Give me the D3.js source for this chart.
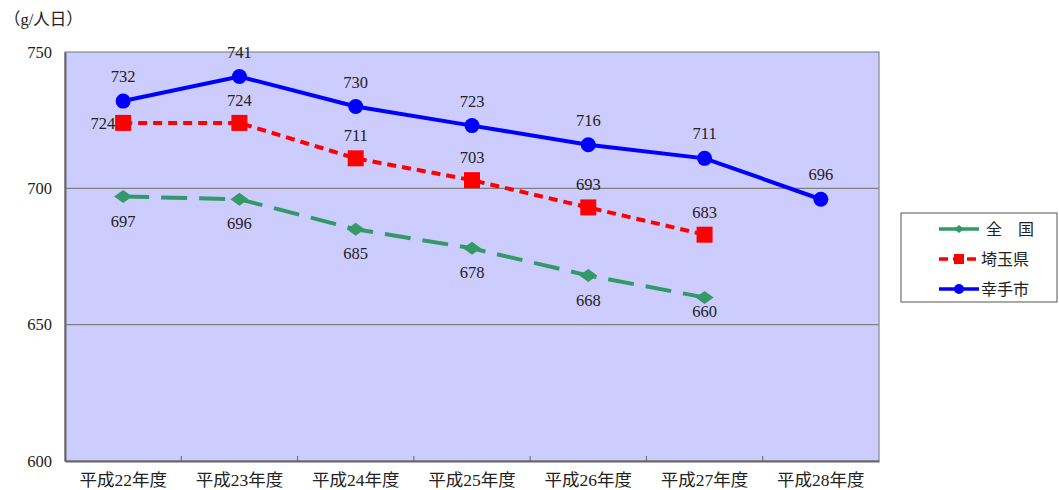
<!DOCTYPE html>
<html><head><meta charset="utf-8">
<script src="https://cdn.jsdelivr.net/npm/d3@7"></script>
<style>
body{margin:0;background:#fff;}
text{font-family:"Liberation Serif","DejaVu Serif","Noto Sans CJK JP",serif;fill:#222;}
</style></head>
<body><svg id="chart" width="1059" height="490"></svg>
<script>
const categories = ["平成22年度","平成23年度","平成24年度","平成25年度","平成26年度","平成27年度","平成28年度"];
const zenkoku = [697, 696, 685, 678, 668, 660];
const saitama = [724, 724, 711, 703, 693, 683];
const satte = [732, 741, 730, 723, 716, 711, 696];
const yTicks = [600, 650, 700, 750];
const seriesNames = ["全　国", "埼玉県", "幸手市"];

const svg = d3.select("#chart");
const m = {left: 65, right: 879, top: 52, bottom: 461};

const x = d3.scaleBand().domain(categories).range([m.left, m.right]);
const y = d3.scaleLinear().domain([600, 750]).range([m.bottom, m.top]);
const cx = i => x(categories[i]) + x.bandwidth() / 2;

// flat diamond marker, wider than tall
const diamond = (w, h) => `M${-w/2},0L0,${-h/2}L${w/2},0L0,${h/2}Z`;

// plot area
svg.append("rect").attr("x", m.left).attr("y", m.top)
  .attr("width", m.right - m.left).attr("height", m.bottom - m.top)
  .attr("fill", "#ccccff").attr("stroke", "#888").attr("stroke-width", 1.2);

// horizontal gridlines
svg.selectAll(".grid").data(yTicks.filter(t => t > 600 && t < 750)).join("line")
  .attr("x1", m.left).attr("x2", m.right)
  .attr("y1", d => y(d)).attr("y2", d => y(d))
  .attr("stroke", "#808080").attr("stroke-width", 1.2);

// axes
const yAxis = d3.axisLeft(y).tickValues(yTicks).tickSize(0).tickPadding(13);
svg.append("g").attr("transform", `translate(${m.left},0)`).call(yAxis)
  .call(g => g.select(".domain").attr("stroke", "#666").attr("stroke-width", 2))
  .call(g => g.selectAll("text").attr("font-size", 16.5).style("fill", "#222"));

const xAxis = d3.axisBottom(x).tickSize(0).tickPadding(13);
svg.append("g").attr("transform", `translate(0,${m.bottom})`).call(xAxis)
  .call(g => g.select(".domain").attr("stroke", "#666").attr("stroke-width", 2))
  .call(g => g.selectAll("text").attr("font-size", 17.5).style("fill", "#222"));

// inner tick marks at category boundaries
svg.selectAll(".xtick").data(categories.slice(1)).join("line")
  .attr("x1", d => x(d)).attr("x2", d => x(d))
  .attr("y1", m.bottom - 5).attr("y2", m.bottom)
  .attr("stroke", "#666").attr("stroke-width", 1);

// unit label
svg.append("text").attr("x", 4).attr("y", 25).attr("font-size", 16.5).text("（g/人日）");

const line = d3.line().x((d, i) => cx(i)).y(d => y(d));
const labelSize = 16.5;

// 全国
svg.append("path").datum(zenkoku).attr("d", line).attr("fill", "none")
  .attr("stroke", "#339966").attr("stroke-width", 4).attr("stroke-dasharray", "26,12");
svg.selectAll(".zk").data(zenkoku).join("path")
  .attr("transform", (d, i) => `translate(${cx(i)},${y(d)})`)
  .attr("d", diamond(18, 13)).attr("fill", "#339966");
svg.selectAll(".zkl").data(zenkoku).join("text")
  .attr("x", (d, i) => cx(i))
  .attr("y", (d, i) => y(d) + (i === zenkoku.length - 1 ? 20 : 30))
  .attr("text-anchor", "middle").attr("font-size", labelSize).text(d => d);

// 埼玉県
svg.append("path").datum(saitama).attr("d", line).attr("fill", "none")
  .attr("stroke", "#ff0000").attr("stroke-width", 4).attr("stroke-dasharray", "9,6");
svg.selectAll(".st").data(saitama).join("rect")
  .attr("x", (d, i) => cx(i) - 8).attr("y", d => y(d) - 8)
  .attr("width", 16).attr("height", 16).attr("fill", "#ff0000");
svg.selectAll(".stl").data(saitama).join("text")
  .attr("x", (d, i) => i === 0 ? cx(i) - 8 : cx(i))
  .attr("y", (d, i) => i === 0 ? y(d) + 6 : y(d) - 17)
  .attr("text-anchor", (d, i) => i === 0 ? "end" : "middle")
  .attr("font-size", labelSize).text(d => d);

// 幸手市
svg.append("path").datum(satte).attr("d", line).attr("fill", "none")
  .attr("stroke", "#0000ff").attr("stroke-width", 4);
svg.selectAll(".sa").data(satte).join("circle")
  .attr("cx", (d, i) => cx(i)).attr("cy", d => y(d)).attr("r", 7.5).attr("fill", "#0000ff");
svg.selectAll(".sal").data(satte).join("text")
  .attr("x", (d, i) => cx(i)).attr("y", d => y(d) - 19)
  .attr("text-anchor", "middle").attr("font-size", labelSize).text(d => d);

// legend
const lg = svg.append("g").attr("transform", "translate(901,213)");
lg.append("rect").attr("width", 156).attr("height", 89)
  .attr("fill", "#fff").attr("stroke", "#555").attr("stroke-width", 1);
const legendItems = [
  {name: seriesNames[0], color: "#339966", dash: null, mark: "diamond"},
  {name: seriesNames[1], color: "#ff0000", dash: "9,5", mark: "square"},
  {name: seriesNames[2], color: "#0000ff", dash: null, mark: "circle"}
];
legendItems.forEach((it, k) => {
  const yy = 16 + k * 30;
  const g = lg.append("g").attr("transform", `translate(0,${yy})`);
  g.append("line").attr("x1", 38).attr("x2", 78).attr("y1", 0).attr("y2", 0)
    .attr("stroke", it.color).attr("stroke-width", 3.5)
    .attr("stroke-dasharray", it.dash);
  if (it.mark === "diamond") g.append("path").attr("transform", "translate(58,0)")
    .attr("d", diamond(10, 8)).attr("fill", it.color);
  if (it.mark === "square") g.append("rect").attr("x", 53).attr("y", -5)
    .attr("width", 10).attr("height", 10).attr("fill", it.color);
  if (it.mark === "circle") g.append("circle").attr("cx", 58).attr("r", 5).attr("fill", it.color);
  g.append("text").attr("x", it.mark === "diamond" ? 85 : 80).attr("y", 6)
    .attr("font-size", 16).text(it.name);
});
</script></body></html>
